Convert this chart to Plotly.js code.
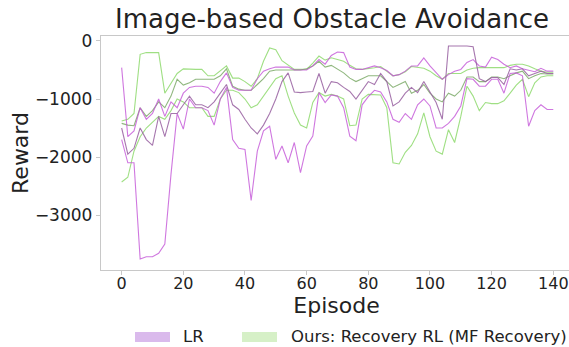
<!DOCTYPE html>
<html>
<head>
<meta charset="utf-8">
<script src="https://cdn.plot.ly/plotly-3.0.1.min.js"></script>
<style>
  html, body { margin: 0; padding: 0; background: #fff; overflow: hidden; }
  #chart { width: 575px; height: 347px; }
</style>
</head>
<body>
<div id="chart"></div>
<script>
// Episodes (x values)
const episodes = [0,2,4,6,8,10,12,14,16,18,20,22,24,26,28,30,32,34,36,38,40,42,44,46,48,50,52,54,56,58,60,62,64,66,68,70,72,74,76,78,80,82,84,86,88,90,92,94,96,98,100,102,104,106,108,110,112,114,116,118,120,122,124,126,128,130,132,134,136,138,140];

// LR (purple): upper, mean, lower
const lrUpper = [-460,-1650,-1550,-1150,-1350,-1250,-1000,-1300,-1050,-1150,-900,-800,-780,-780,-800,-900,-700,-550,-800,-850,-850,-850,-650,-520,-480,-450,-450,-450,-500,-500,-500,-430,-320,-400,-250,-190,-200,-450,-490,-490,-460,-430,-460,-510,-600,-580,-520,-430,-430,-290,-430,-550,-660,-580,-520,-490,-370,-320,-430,-450,-280,-320,-400,-460,-430,-480,-500,-530,-470,-520,-520];
const lrMean = [-1500,-1950,-1850,-1500,-1700,-1800,-1300,-1650,-1250,-1250,-1100,-950,-1100,-1100,-1150,-1050,-900,-750,-1100,-1180,-1350,-1500,-1600,-1450,-1250,-1000,-700,-550,-880,-890,-880,-870,-560,-900,-700,-720,-800,-870,-1000,-850,-700,-750,-560,-700,-1120,-1050,-900,-800,-890,-700,-890,-1060,-1350,-86,-86,-86,-86,-100,-650,-700,-630,-630,-750,-480,-500,-480,-600,-560,-520,-560,-560];
const lrLower = [-1700,-2100,-2100,-3760,-3720,-3720,-3660,-3500,-2300,-1250,-1520,-1000,-1150,-1150,-1200,-1450,-1000,-800,-1700,-1850,-1870,-2750,-1900,-1550,-1470,-2040,-1810,-2100,-1750,-2270,-1810,-1640,-890,-1060,-930,-950,-1150,-1640,-1720,-1100,-960,-850,-880,-1050,-1350,-1400,-1250,-1350,-1100,-1000,-1120,-1500,-1500,-1420,-1300,-1120,-650,-660,-780,-780,-660,-660,-900,-560,-550,-600,-1470,-1200,-1100,-1180,-1180];

// Ours: Recovery RL (MF Recovery) (green): upper, mean, lower
const oursUpper = [-1380,-1350,-1250,-230,-200,-200,-200,-900,-720,-560,-480,-490,-490,-490,-600,-600,-520,-430,-640,-640,-700,-780,-650,-350,-120,-150,-340,-420,-490,-490,-490,-380,-260,-330,-290,-320,-350,-420,-480,-490,-480,-460,-440,-520,-600,-580,-530,-440,-460,-470,-520,-600,-660,-560,-560,-560,-500,-470,-460,-460,-470,-460,-460,-420,-400,-400,-430,-480,-520,-540,-540];
const oursMean = [-1420,-1450,-1460,-1150,-1300,-1200,-1050,-1150,-950,-660,-760,-720,-660,-660,-660,-660,-600,-480,-780,-830,-850,-850,-750,-650,-520,-500,-500,-500,-510,-500,-480,-430,-350,-450,-420,-480,-550,-640,-700,-650,-600,-600,-600,-700,-800,-750,-700,-900,-850,-750,-900,-1000,-1050,-900,-950,-850,-620,-620,-700,-700,-620,-620,-650,-600,-550,-520,-650,-600,-560,-570,-570];
const oursLower = [-2430,-2350,-1900,-1650,-1500,-1400,-1300,-1350,-1200,-1000,-1050,-1150,-1150,-1150,-1300,-1300,-1000,-850,-850,-890,-1000,-1150,-1100,-950,-800,-650,-600,-950,-1240,-1450,-1500,-1060,-890,-950,-920,-950,-1000,-1460,-1450,-1000,-920,-930,-930,-1150,-2100,-2120,-1920,-1800,-1600,-1240,-1650,-1900,-1950,-1530,-1750,-1300,-780,-950,-1200,-1060,-1080,-1080,-1030,-900,-760,-660,-960,-720,-620,-600,-600];

const legendLabels = ["LR", "Ours: Recovery RL (MF Recovery)"];
const xTicks = [0,20,40,60,80,100,120,140];
const yTicks = [0,-1000,-2000,-3000];

const purple = 'rgba(195,85,215,0.8)';
const purpleDark = 'rgba(150,95,160,0.85)';
const green = 'rgba(135,215,100,0.8)';
const greenDark = 'rgba(125,170,105,0.85)';

function line(y, color, name) {
  return { x: episodes, y: y, type: 'scatter', mode: 'lines', name: name,
           line: { color: color, width: 1.1 }, showlegend: false, hoverinfo: 'skip' };
}

const data = [
  line(oursUpper, green, legendLabels[1]),
  line(oursLower, green, legendLabels[1]),
  line(oursMean, greenDark, legendLabels[1]),
  line(lrUpper, purple, legendLabels[0]),
  line(lrLower, purple, legendLabels[0]),
  line(lrMean, purpleDark, legendLabels[0])
];

const font = 'DejaVu Sans, sans-serif';
const textColor = '#222';
const W = 575, L = 101, R = 3, T = 36, B = 77;
const pw = W - L - R, ph = 347 - T - B;
function px(x) { return (x - L) / pw; }
function py(y) { return (347 - B - y) / ph; }

const layout = {
  width: W, height: 347,
  margin: { l: L, r: R, t: T, b: B, pad: 0 },
  paper_bgcolor: '#fff', plot_bgcolor: '#fff',
  showlegend: false,
  font: { family: font, color: textColor },
  title: { text: 'Image-based Obstacle Avoidance', font: { size: 26, family: font, color: textColor },
           x: 332 / W, xref: 'container', xanchor: 'center', y: 1 - 19 / 347, yref: 'container', yanchor: 'middle' },
  xaxis: {
    range: [-6.7, 146.07], tickvals: xTicks, ticktext: xTicks.map(String),
    showgrid: false, zeroline: false, showline: true, linecolor: '#c8c8c8', linewidth: 1.2,
    mirror: true, ticks: 'outside', ticklen: 4, tickcolor: '#c8c8c8',
    ticklabelstandoff: -5,
    tickfont: { size: 16, family: font, color: textColor },
    title: { text: 'Episode', font: { size: 22, family: font, color: textColor }, standoff: 0 }
  },
  yaxis: {
    range: [-3948, 86], tickvals: yTicks, ticktext: yTicks.map(v => v < 0 ? '\u2212' + Math.abs(v) : String(v)),
    showgrid: false, zeroline: false, showline: true, linecolor: '#c8c8c8', linewidth: 1.2,
    ticks: 'outside', ticklen: 4, tickcolor: '#c8c8c8',
    tickfont: { size: 17, family: font, color: textColor },
    title: { text: 'Reward', font: { size: 22, family: font, color: textColor }, standoff: 0 }
  },
  shapes: [
    { type: 'rect', xref: 'paper', yref: 'paper', x0: px(135), x1: px(170), y0: py(342), y1: py(332),
      fillcolor: 'rgb(218,186,236)', line: { width: 0 } },
    { type: 'rect', xref: 'paper', yref: 'paper', x0: px(242), x1: px(277), y0: py(342), y1: py(332),
      fillcolor: 'rgb(214,240,199)', line: { width: 0 } }
  ],
  annotations: [
    { text: legendLabels[0], xref: 'paper', yref: 'paper', x: px(181), y: py(337), xanchor: 'left', yanchor: 'middle',
      showarrow: false, font: { size: 16.5, family: font, color: textColor } },
    { text: legendLabels[1], xref: 'paper', yref: 'paper', x: px(289), y: py(337), xanchor: 'left', yanchor: 'middle',
      showarrow: false, font: { size: 16.5, family: font, color: textColor } }
  ]
};

Plotly.newPlot('chart', data, layout, { staticPlot: true, displayModeBar: false });
</script>
</body>
</html>
